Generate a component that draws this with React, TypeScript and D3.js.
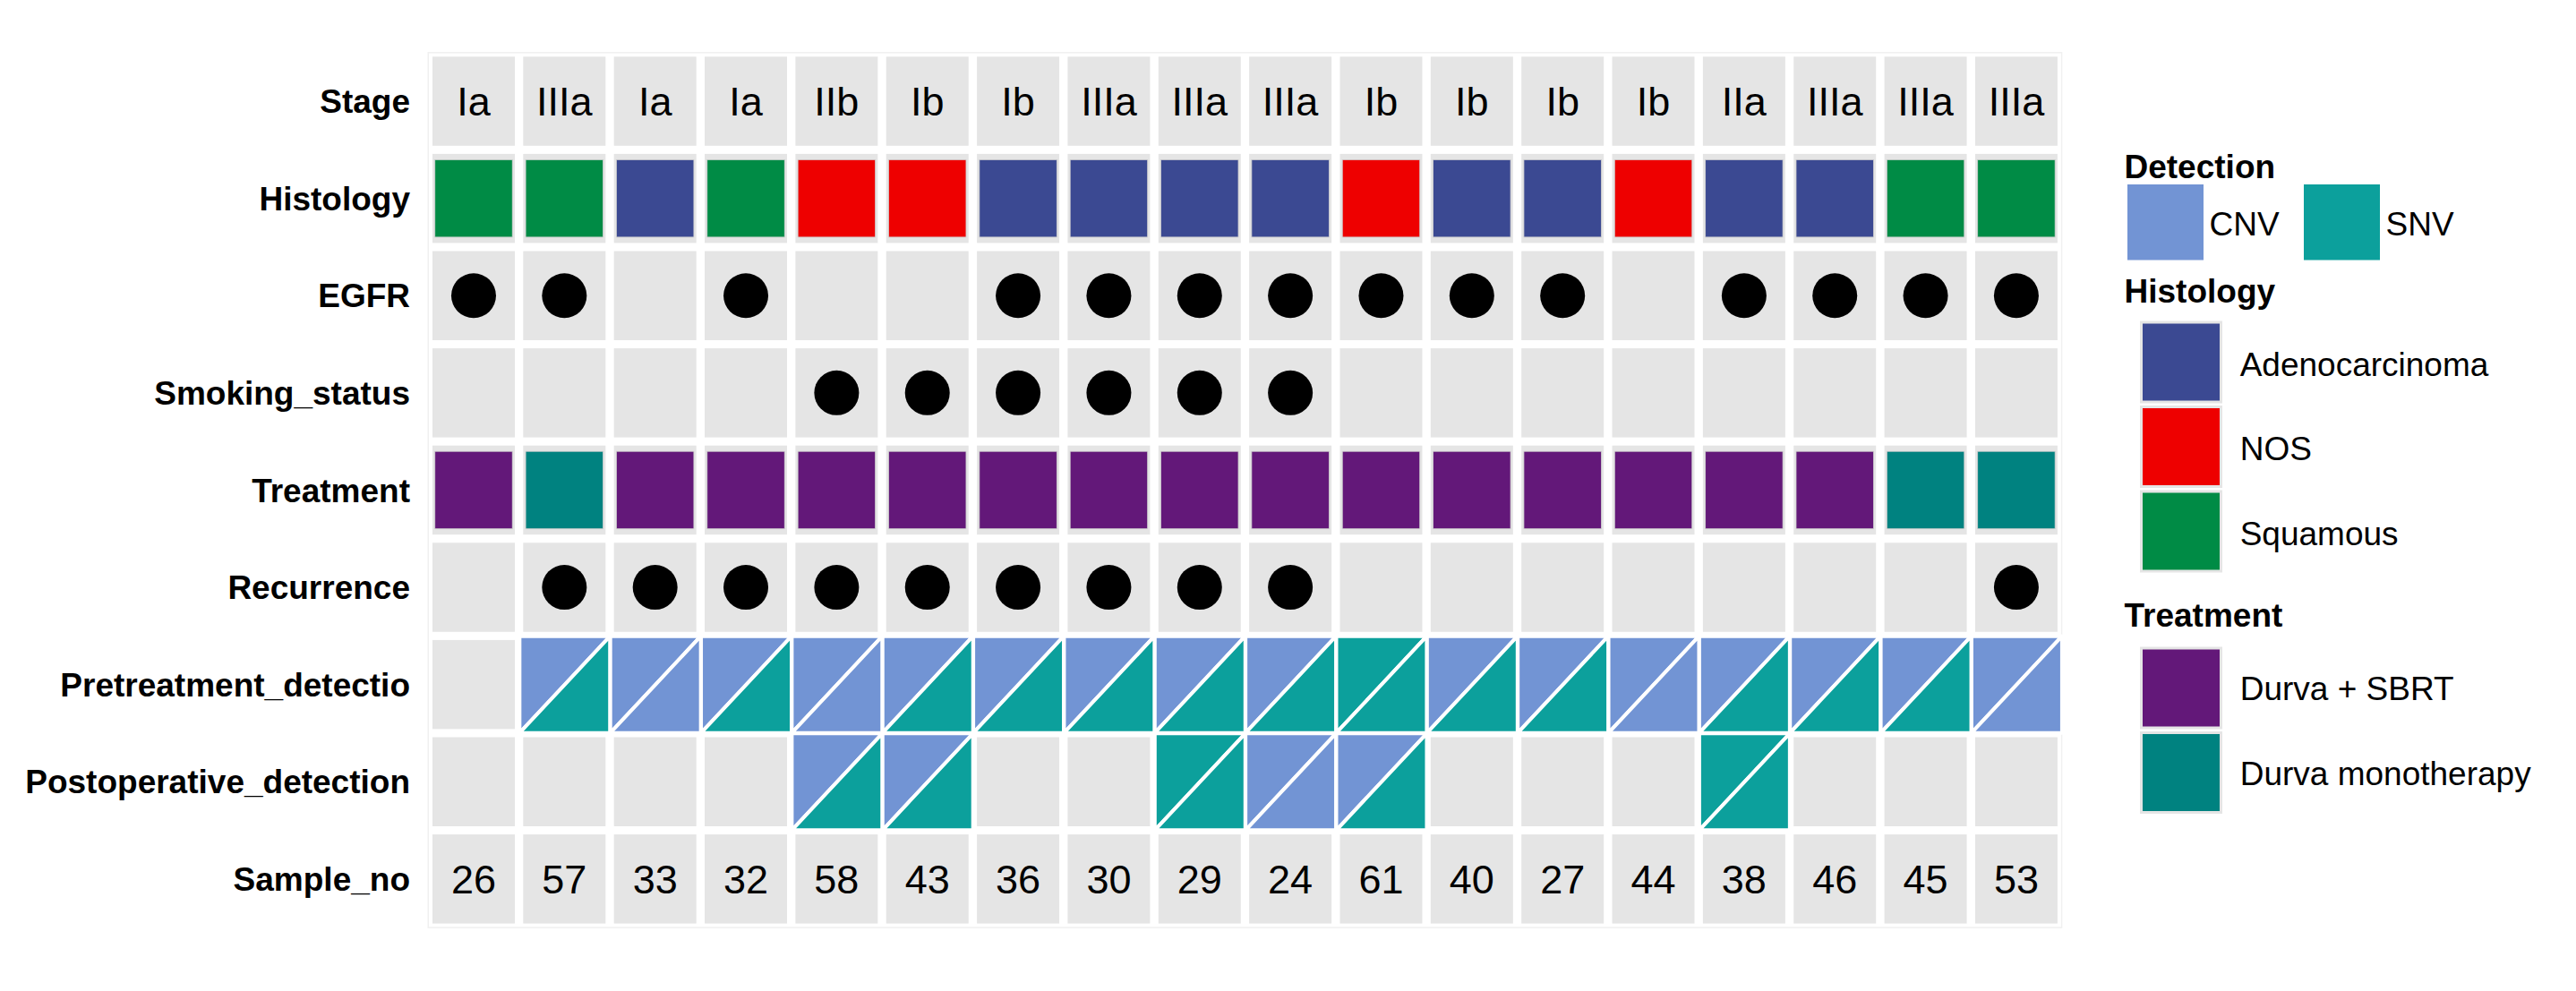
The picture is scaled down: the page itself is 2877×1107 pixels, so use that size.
import React from "react";
import * as d3 from "d3";

// ---------------- data ----------------
const sampleNo = ["26", "57", "33", "32", "58", "43", "36", "30", "29", "24", "61", "40", "27", "44", "38", "46", "45", "53"];
const stage = ["Ia", "IIIa", "Ia", "Ia", "IIb", "Ib", "Ib", "IIIa", "IIIa", "IIIa", "Ib", "Ib", "Ib", "Ib", "IIa", "IIIa", "IIIa", "IIIa"];
const histology = ["Squamous", "Squamous", "Adenocarcinoma", "Squamous", "NOS", "NOS", "Adenocarcinoma", "Adenocarcinoma", "Adenocarcinoma", "Adenocarcinoma", "NOS", "Adenocarcinoma", "Adenocarcinoma", "NOS", "Adenocarcinoma", "Adenocarcinoma", "Squamous", "Squamous"];
const egfr = [1, 1, 0, 1, 0, 0, 1, 1, 1, 1, 1, 1, 1, 0, 1, 1, 1, 1];
const smoking = [0, 0, 0, 0, 1, 1, 1, 1, 1, 1, 0, 0, 0, 0, 0, 0, 0, 0];
const treatment = ["Durva + SBRT", "Durva monotherapy", "Durva + SBRT", "Durva + SBRT", "Durva + SBRT", "Durva + SBRT", "Durva + SBRT", "Durva + SBRT", "Durva + SBRT", "Durva + SBRT", "Durva + SBRT", "Durva + SBRT", "Durva + SBRT", "Durva + SBRT", "Durva + SBRT", "Durva + SBRT", "Durva monotherapy", "Durva monotherapy"];
const recurrence = [0, 1, 1, 1, 1, 1, 1, 1, 1, 1, 0, 0, 0, 0, 0, 0, 0, 1];
// detection: [upper-left, lower-right] or null
const pretreatment: ([string, string] | null)[] = [
  null, ["CNV", "SNV"], ["CNV", "CNV"], ["CNV", "SNV"], ["CNV", "CNV"], ["CNV", "SNV"], ["CNV", "SNV"], ["CNV", "SNV"], ["CNV", "SNV"],
  ["CNV", "SNV"], ["SNV", "SNV"], ["CNV", "SNV"], ["CNV", "SNV"], ["CNV", "CNV"], ["CNV", "SNV"], ["CNV", "SNV"], ["CNV", "SNV"], ["CNV", "CNV"],
];
const postoperative: ([string, string] | null)[] = [
  null, null, null, null, ["CNV", "SNV"], ["CNV", "SNV"], null, null, ["SNV", "SNV"],
  ["CNV", "CNV"], ["CNV", "SNV"], null, null, null, ["SNV", "SNV"], null, null, null,
];
const rowNames = ["Stage", "Histology", "EGFR", "Smoking_status", "Treatment", "Recurrence", "Pretreatment_detectio", "Postoperative_detection", "Sample_no"];

const detectionLevels = ["CNV", "SNV"];
const detectionColors = ["#7294D4", "#0CA09C"];
const histologyLevels = ["Adenocarcinoma", "NOS", "Squamous"];
const histologyColors = ["#3B4992", "#EE0000", "#008B45"];
const treatmentLevels = ["Durva + SBRT", "Durva monotherapy"];
const treatmentColors = ["#631879", "#008280"];

// ---------------- layout ----------------
const W = 2877;
const H = 1107;
const FONT = "'Liberation Sans', Arial, Helvetica, sans-serif";
const GREY = "#E5E5E5";

const cols = sampleNo.map((_, i) => String(i));
const x = d3.scaleBand<string>().domain(cols).range([478.3, 2302.6]).paddingInner(0.0925).paddingOuter(0.04625);
const y = d3.scaleBand<string>().domain(rowNames).range([58.75, 1036.15]).paddingInner(0.0838).paddingOuter(0.0419);

const detColor = d3.scaleOrdinal<string, string>().domain(detectionLevels).range(detectionColors);
const histColor = d3.scaleOrdinal<string, string>().domain(histologyLevels).range(histologyColors);
const trtColor = d3.scaleOrdinal<string, string>().domain(treatmentLevels).range(treatmentColors);

export default function App() {
  const bw = x.bandwidth();
  const bh = y.bandwidth();
  const tile = Math.min(bw, bh) - 5.5;

  const rowY = (r: string) => y(r) as number;
  const cx = (i: number) => (x(String(i)) as number) + bw / 2;
  const cy = (r: string) => rowY(r) + bh / 2;

  const textCell = (r: string, vals: string[]) =>
    vals.map((v, i) => (
      <text key={r + i} x={cx(i)} y={cy(r) + 16} textAnchor="middle" fontSize={45} fontFamily={FONT} fill="#000">
        {v}
      </text>
    ));

  const tileCell = (r: string, vals: string[], scale: (v: string) => string) =>
    vals.map((v, i) => (
      <rect key={r + i} x={cx(i) - tile / 2} y={cy(r) - tile / 2} width={tile} height={tile} fill={scale(v)} stroke="#cfcfcf" strokeWidth={0.8} />
    ));

  const dotCell = (r: string, vals: number[]) =>
    vals.map((v, i) => (v ? <circle key={r + i} cx={cx(i)} cy={cy(r)} r={25} fill="#000" /> : null));

  const detCell = (r: string, vals: ([string, string] | null)[]) =>
    vals.map((v, i) => {
      if (!v) return null;
      const x0 = x(String(i)) as number;
      const y0 = rowY(r);
      const L = x0 - 4;
      const R = x0 + bw + 5;
      const T = y0 - 4.2;
      const B = y0 + bh + 4.3;
      return (
        <g key={r + i}>
          <polygon points={`${L},${T} ${R},${T} ${L},${B}`} fill={detColor(v[0])} stroke="#fff" strokeWidth={4} strokeLinejoin="round" />
          <polygon points={`${R},${T} ${R},${B} ${L},${B}`} fill={detColor(v[1])} stroke="#fff" strokeWidth={4} strokeLinejoin="round" />
        </g>
      );
    });

  const [xr0, xr1] = x.range();
  const [yr0, yr1] = y.range();

  // legend
  const LX = 2372.5;
  const histKeyY = (i: number) => 360 + i * 94.5;
  const trtKeyY = (i: number) => 724 + i * 94.5;

  return (
    <svg width={W} height={H} style={{ position: "absolute", left: 0, top: 0, background: "#fff" }}>
      <rect x={0} y={0} width={W} height={H} fill="#fff" />
      <rect x={xr0} y={yr0} width={xr1 - xr0} height={yr1 - yr0} fill="#fff" stroke="#f0f0f0" strokeWidth={1.5} />
      {rowNames.map((r) =>
        cols.map((c) => <rect key={r + c} x={x(c)} y={rowY(r)} width={bw} height={bh} fill={GREY} />)
      )}
      {rowNames.map((r) => (
        <text key={r} x={458} y={cy(r) + 13.2} textAnchor="end" fontSize={37} fontWeight="bold" fontFamily={FONT} fill="#000">
          {r}
        </text>
      ))}
      {textCell("Stage", stage)}
      {tileCell("Histology", histology, histColor)}
      {dotCell("EGFR", egfr)}
      {dotCell("Smoking_status", smoking)}
      {tileCell("Treatment", treatment, trtColor)}
      {dotCell("Recurrence", recurrence)}
      {detCell("Pretreatment_detectio", pretreatment)}
      {detCell("Postoperative_detection", postoperative)}
      {textCell("Sample_no", sampleNo)}

      {/* Legend: Detection */}
      <g fontFamily={FONT} fill="#000">
        <text x={LX} y={198.7} fontSize={37} fontWeight="bold">Detection</text>
        {detectionLevels.map((d, i) => {
          const kx = 2376 + i * 197;
          return (
            <g key={d}>
              <rect x={kx} y={206} width={85} height={84.5} fill={detColor(d)} />
              <text x={kx + 91.5} y={262.5} fontSize={37}>{d}</text>
            </g>
          );
        })}
        <text x={LX} y={338} fontSize={37} fontWeight="bold">Histology</text>
        {histologyLevels.map((d, i) => (
          <g key={d}>
            <rect x={2391.5} y={histKeyY(i)} width={89} height={89} fill={histColor(d)} stroke={GREY} strokeWidth={3} />
            <text x={2501.7} y={histKeyY(i) + 59.6} fontSize={37}>{d}</text>
          </g>
        ))}
        <text x={LX} y={700} fontSize={37} fontWeight="bold">Treatment</text>
        {treatmentLevels.map((d, i) => (
          <g key={d}>
            <rect x={2391.5} y={trtKeyY(i)} width={89} height={89} fill={trtColor(d)} stroke={GREY} strokeWidth={3} />
            <text x={2501.7} y={trtKeyY(i) + 58} fontSize={37}>{d}</text>
          </g>
        ))}
      </g>
    </svg>
  );
}
